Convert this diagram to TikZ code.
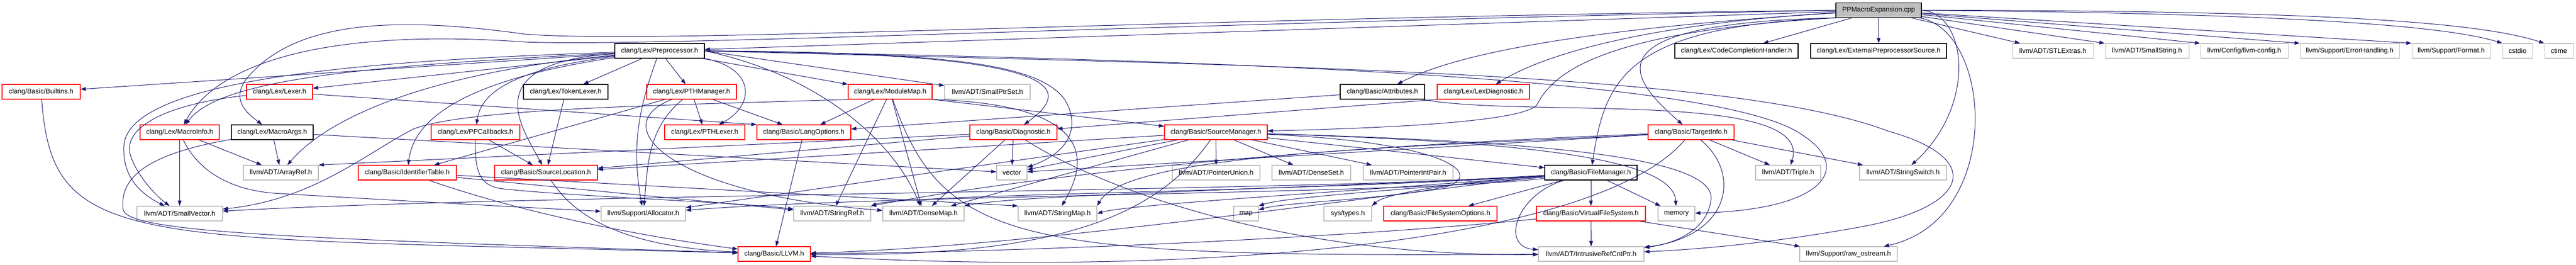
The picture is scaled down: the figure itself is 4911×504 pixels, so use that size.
\documentclass[tikz,border=0pt]{standalone}
\usepackage{fontspec}
\setmainfont{Liberation Sans}
\usepackage{tikz}
\usetikzlibrary{arrows.meta}
\definecolor{edgeblue}{HTML}{191970}
\definecolor{leafgray}{HTML}{BFBFBF}
\definecolor{cutred}{HTML}{FF0000}
\tikzstyle{hfile}=[draw, rectangle, minimum height=28pt, inner sep=0pt, line width=1.1pt, font=\fontsize{13}{15}\selectfont]
\tikzstyle{hfull}=[hfile, draw=black]
\tikzstyle{hcut}=[hfile, draw=cutred]
\tikzstyle{hleaf}=[hfile, draw=leafgray]
\tikzstyle{dep}=[draw=edgeblue, line width=1pt, -{Triangle[length=10pt,width=7pt]}]

\begin{document}
\begin{tikzpicture}[x=1pt,y=-1pt]
\useasboundingbox (0,0) rectangle (4911,504);
% rank 0 and 1
\node[hfull, fill=leafgray, minimum width=163pt] (ppm) at (3581.5,19.5) {PPMacroExpansion.cpp};
\node[hfull, minimum width=171pt] (pp) at (1257.5,97) {clang/Lex/Preprocessor.h};
\node[hfull, minimum width=235pt] (cch) at (3310.5,97) {clang/Lex/CodeCompletionHandler.h};
\node[hfull, minimum width=259pt] (eps) at (3581.5,97) {clang/Lex/ExternalPreprocessorSource.h};
\node[hleaf, minimum width=155pt] (stlx) at (3913.5,97) {llvm/ADT/STLExtras.h};
\node[hleaf, minimum width=160pt] (sstr) at (4093,97) {llvm/ADT/SmallString.h};
\node[hleaf, minimum width=167pt] (llcfg) at (4278.5,97) {llvm/Config/llvm-config.h};
\node[hleaf, minimum width=189pt] (errh) at (4479.5,97) {llvm/Support/ErrorHandling.h};
\node[hleaf, minimum width=150pt] (fmt) at (4673,97) {llvm/Support/Format.h};
\node[hleaf, minimum width=57pt] (cstdio) at (4799.5,97) {cstdio};
\node[hleaf, minimum width=55pt] (ctime) at (4878.5,97) {ctime};
% rank 2
\node[hcut, minimum width=149pt] (builtins) at (78.5,175) {clang/Basic/Builtins.h};
\node[hcut, minimum width=126pt] (lexer) at (533,175) {clang/Lex/Lexer.h};
\node[hfull, minimum width=161pt] (toklex) at (1078.5,175) {clang/Lex/TokenLexer.h};
\node[hcut, minimum width=171pt] (pthmgr) at (1318.5,175) {clang/Lex/PTHManager.h};
\node[hcut, minimum width=160pt] (modmap) at (1697,175) {clang/Lex/ModuleMap.h};
\node[hleaf, minimum width=163pt] (sptrset) at (1882.5,175) {llvm/ADT/SmallPtrSet.h};
\node[hfull, minimum width=161pt] (attr) at (2635.5,175) {clang/Basic/Attributes.h};
\node[hcut, minimum width=176pt] (lexdiag) at (2828,175) {clang/Lex/LexDiagnostic.h};
% rank 3
\node[hcut, minimum width=151pt] (minfo) at (342.5,252) {clang/Lex/MacroInfo.h};
\node[hfull, minimum width=156pt] (margs) at (519,252) {clang/Lex/MacroArgs.h};
\node[hcut, minimum width=169pt] (ppcb) at (906.5,252) {clang/Lex/PPCallbacks.h};
\node[hcut, minimum width=153pt] (pthlex) at (1343.5,252) {clang/Lex/PTHLexer.h};
\node[hcut, minimum width=179pt] (langopt) at (1532.5,252) {clang/Basic/LangOptions.h};
\node[hcut, minimum width=166pt] (diag) at (1932,252) {clang/Basic/Diagnostic.h};
\node[hcut, minimum width=196pt] (srcmgr) at (2318,252) {clang/Basic/SourceManager.h};
\node[hcut, minimum width=164pt] (ti) at (3224,252) {clang/Basic/TargetInfo.h};
% rank 4
\node[hleaf, minimum width=143pt] (aref) at (535.5,329) {llvm/ADT/ArrayRef.h};
\node[hcut, minimum width=187pt] (idtab) at (776.5,329) {clang/Basic/IdentifierTable.h};
\node[hcut, minimum width=196pt] (srcloc) at (1041,329) {clang/Basic/SourceLocation.h};
\node[hleaf, minimum width=58pt] (vector) at (1929,329) {vector};
\node[hleaf, minimum width=167pt] (punion) at (2318.5,329) {llvm/ADT/PointerUnion.h};
\node[hleaf, minimum width=150pt] (dset) at (2500,329) {llvm/ADT/DenseSet.h};
\node[hleaf, minimum width=171pt] (pint) at (2684.5,329) {llvm/ADT/PointerIntPair.h};
\node[hfull, minimum width=176pt] (fm) at (3033,329) {clang/Basic/FileManager.h};
\node[hleaf, minimum width=124pt] (triple) at (3409,329) {llvm/ADT/Triple.h};
\node[hleaf, minimum width=166pt] (sswitch) at (3628,329) {llvm/ADT/StringSwitch.h};
% rank 5
\node[hleaf, minimum width=163pt] (svec) at (342.5,407) {llvm/ADT/SmallVector.h};
\node[hleaf, minimum width=161pt] (alloc) at (1226.5,407) {llvm/Support/Allocator.h};
\node[hleaf, minimum width=147pt] (sref) at (1586.5,407) {llvm/ADT/StringRef.h};
\node[hleaf, minimum width=155pt] (dmap) at (1760.5,407) {llvm/ADT/DenseMap.h};
\node[hleaf, minimum width=150pt] (smap) at (2016,407) {llvm/ADT/StringMap.h};
\node[hleaf, minimum width=47pt] (map) at (2375.5,407) {map};
\node[hleaf, minimum width=91pt] (systypes) at (2569.5,407) {sys/types.h};
\node[hcut, minimum width=216pt] (fso) at (2746,407) {clang/Basic/FileSystemOptions.h};
\node[hcut, minimum width=208pt] (vfs) at (3033,407) {clang/Basic/VirtualFileSystem.h};
\node[hleaf, minimum width=70pt] (memory) at (3196,407) {memory};
% rank 6
\node[hcut, minimum width=138pt] (llvmh) at (1476,484) {clang/Basic/LLVM.h};
\node[hleaf, minimum width=201pt] (irc) at (3033.5,484) {llvm/ADT/IntrusiveRefCntPtr.h};
\node[hleaf, minimum width=186pt] (rawos) at (3524,484) {llvm/Support/raw\_ostream.h};

\foreach \a/\b in {ppm/pp, ppm/cch, ppm/eps, ppm/stlx,
  pp/builtins, pp/lexer, pp/toklex, pp/pthmgr, pp/modmap,
  minfo/svec, minfo/aref, margs/aref, margs/vector,
  toklex/srcloc, pthmgr/pthlex, pthmgr/idtab, pthmgr/langopt,
  ppcb/srcloc, modmap/langopt, modmap/sref, modmap/dmap,
  langopt/llvmh, diag/srcloc, diag/dmap, diag/vector, attr/langopt,
  srcmgr/fm, srcmgr/srcloc, srcmgr/dmap, srcmgr/punion, srcmgr/dset,
  srcmgr/pint, srcmgr/alloc, srcmgr/vector,
  fm/fso, fm/vfs, fm/memory, vfs/irc, vfs/rawos,
  ti/triple, ti/sswitch, ti/vector, idtab/sref} {
	\draw[dep] (\a) -- (\b);
}
\draw[dep] (ppm) -- (sstr.north west);
\draw[dep] (ppm) -- (llcfg.north west);
\draw[dep] (ppm) -- (errh.north west);
\draw[dep] (ppm) -- (fmt.north west);
\draw[dep] (pp.east) -- (sptrset);
\draw[dep] (lexer) -- (langopt.north west);
\draw[dep] (diag) -- (aref.north east);
\draw[dep] (lexdiag.south west) -- (diag);
\draw[dep] (modmap.south east) -- (srcmgr);
\draw[dep] (idtab) -- (smap.north west);

% edges out of the source file
\draw[dep] (ppm.west) .. controls (2200,35) and (1250,85) .. (1000,65) .. controls (750,30) and (560,40) .. (470,150) .. controls (440,190) and (470,215) .. (margs);
\draw[dep] (ppm.west) .. controls (2200,45) and (1250,90) .. (1000,80) .. controls (650,55) and (420,110) .. (minfo);
\draw[dep] (ppm.east) .. controls (4300,25) and (4650,45) .. (cstdio.north west);
\draw[dep] (ppm.east) .. controls (4400,20) and (4720,40) .. (ctime.north west);
\draw[dep] (ppm.east) .. controls (3750,25) and (3770,200) .. (sswitch);
\draw[dep] (ppm) .. controls (3800,60) and (3820,420) .. (rawos);
\draw[dep] (ppm) .. controls (3100,50) and (2800,90) .. (attr);
\draw[dep] (ppm) .. controls (3150,45) and (2950,100) .. (lexdiag);
\draw[dep] (ppm.south west) .. controls (3000,45) and (3120,160) .. (ti);
\draw[dep] (ppm.south west) .. controls (3100,50) and (3060,150) .. (fm);
\draw[dep] (ppm.south west) .. controls (3050,60) and (2960,140) .. (2930,200) .. controls (2900,235) and (2600,245) .. (srcmgr);

% edges out of Preprocessor.h
\draw[dep] (pp) .. controls (700,125) and (420,150) .. (minfo);
\draw[dep] (pp) .. controls (700,115) and (240,150) .. (236,280) .. controls (234,340) and (270,370) .. (svec);
\draw[dep] (pp) .. controls (800,140) and (620,230) .. (aref);
\draw[dep] (pp) .. controls (900,150) and (790,220) .. (idtab);
\draw[dep] (pp) .. controls (950,135) and (915,190) .. (ppcb);
\draw[dep] (pp) .. controls (900,120) and (1000,250) .. (srcloc);
\draw[dep] (pp) to[out=250,in=100] (alloc);
\draw[dep] (pp.south east) .. controls (1440,130) and (1440,200) .. (pthlex);
\draw[dep] (pp.east) .. controls (2000,100) and (2060,160) .. (diag);
\draw[dep] (pp.east) .. controls (1800,100) and (1980,120) .. (2030,190) .. controls (2060,240) and (2040,290) .. (vector);
\draw[dep] (pp.east) .. controls (1550,140) and (1700,260) .. (dmap);
\draw[dep] (pp.east) .. controls (2400,115) and (3300,150) .. (3440,260) .. controls (3530,320) and (3480,400) .. (memory);
\draw[dep] (pp.east) .. controls (2400,125) and (3300,135) .. (3600,250) .. controls (3780,300) and (3760,390) .. (3560,430) .. controls (3400,460) and (3250,475) .. (irc);

% the rest
\draw[dep] (lexer) .. controls (300,200) and (230,250) .. (250,300) .. controls (265,340) and (300,375) .. (svec);
\draw[dep] (minfo) .. controls (375,320) and (430,360) .. (520,368) .. controls (800,385) and (1000,395) .. (alloc);
\draw[dep] (margs) .. controls (300,290) and (225,330) .. (235,400) .. controls (245,445) and (600,455) .. (llvmh);
\draw[dep] (builtins) .. controls (100,480) and (250,450) .. (llvmh);
\draw[dep] (idtab) .. controls (950,390) and (1150,440) .. (llvmh);
\draw[dep] (srcloc) .. controls (1100,420) and (1200,470) .. (llvmh);
\draw[dep] (pthmgr) .. controls (1150,240) and (1280,370) .. (dmap);
\draw[dep] (pthmgr) to[out=220,in=85] (alloc);
\draw[dep] (ppcb) .. controls (905,330) and (915,355) .. (960,360) .. controls (1100,375) and (1400,385) .. (sref);
\draw[dep] (modmap.south west) .. controls (1300,200) and (900,205) .. (790,245) .. controls (700,290) and (600,380) .. (svec);
\draw[dep] (modmap.south east) .. controls (2120,200) and (2060,330) .. (smap);
\draw[dep] (modmap) .. controls (1800,470) and (1950,490) .. (irc);
\draw[dep] (diag) .. controls (2100,360) and (2450,490) .. (irc);
\draw[dep] (attr) .. controls (2900,225) and (3460,170) .. (triple);
\draw[dep] (srcmgr) .. controls (2200,420) and (2000,490) .. (llvmh);
\draw[dep] (srcmgr) .. controls (2950,270) and (3270,300) .. (3262,380) .. controls (3255,440) and (3190,465) .. (irc);
\draw[dep] (srcmgr) .. controls (2900,270) and (3190,300) .. (memory);
\draw[dep] (srcmgr) .. controls (2750,270) and (2830,330) .. (2760,355) .. controls (2650,380) and (2450,385) .. (map);
\draw[dep] (fm) .. controls (2700,360) and (2000,470) .. (llvmh);
\draw[dep] (fm) .. controls (2700,370) and (1700,370) .. (alloc);
\draw[dep] (fm) .. controls (2500,365) and (1000,370) .. (svec);
\draw[dep] (fm) .. controls (2500,365) and (1720,370) .. (sref.north east);
\draw[dep] (fm) .. controls (2500,360) and (1950,370) .. (dmap.north east);
\draw[dep] (fm) .. controls (2500,370) and (2150,390) .. (smap.east);
\draw[dep] (fm) .. controls (2700,360) and (2450,375) .. (map.north east);
\draw[dep] (fm) .. controls (2750,350) and (2640,370) .. (systypes.north east);
\draw[dep] (fm) .. controls (2890,370) and (2860,470) .. (irc);
\draw[dep] (ti) .. controls (3050,460) and (2300,530) .. (llvmh);
\draw[dep] (ti) .. controls (3320,330) and (3300,450) .. (irc);
\draw[dep] (ti) .. controls (2700,280) and (2150,290) .. (smap.north east);
\draw[dep] (ti) .. controls (2500,280) and (2000,330) .. (sref.north east);
\draw[dep] (vfs) .. controls (2600,450) and (2000,480) .. (llvmh);
\end{tikzpicture}
\end{document}
